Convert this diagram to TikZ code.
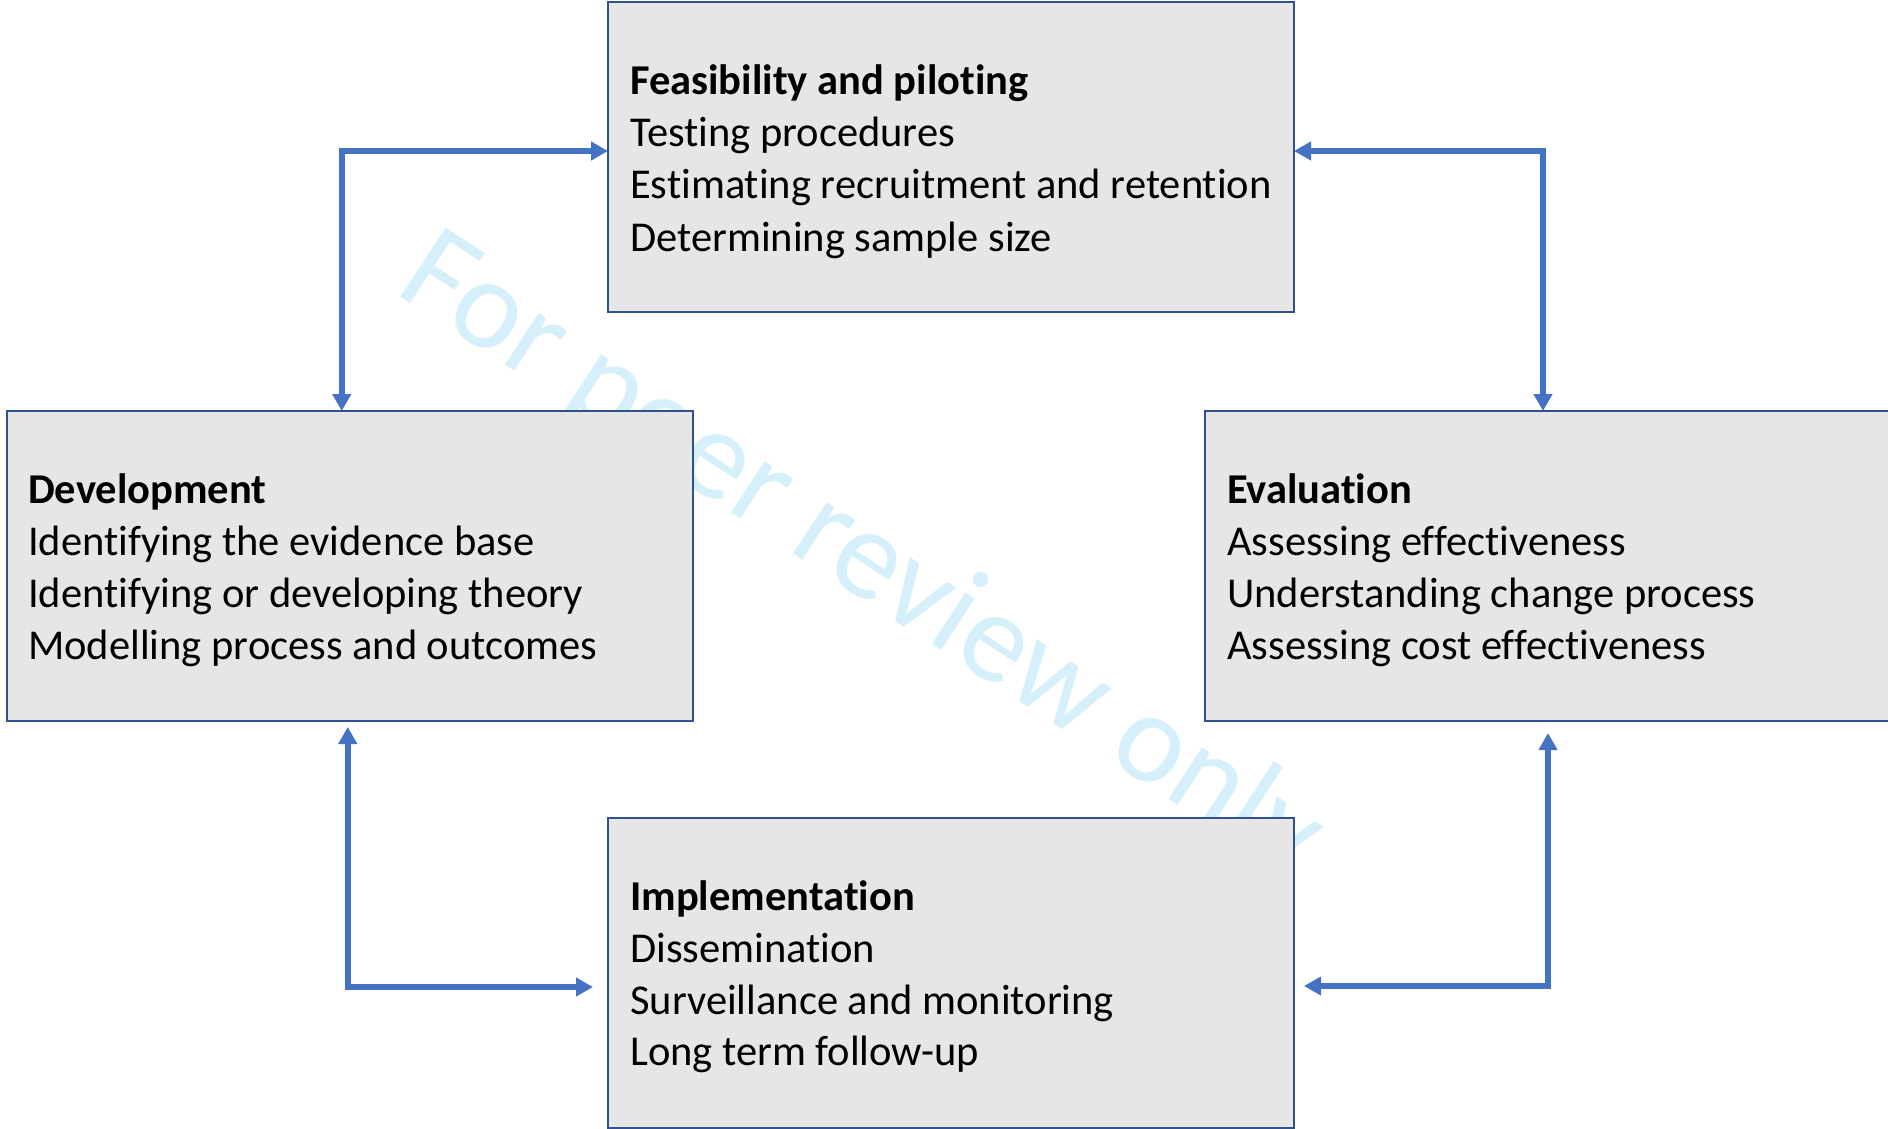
\documentclass[tikz,border=0pt]{standalone}
\usepackage{fontspec}
\setmainfont[Ligatures=NoCommon]{Carlito}
\usetikzlibrary{arrows.meta}
\definecolor{boxfill}{RGB}{230,230,230}
\definecolor{boxline}{RGB}{47,82,143}
\definecolor{arrowblue}{RGB}{68,114,196}
\definecolor{wmblue}{RGB}{214,240,251}
\begin{document}
\begin{tikzpicture}[x=1pt,y=-1pt,
  stagebox/.style={draw=boxline, fill=boxfill, line width=2.5pt, inner sep=0pt, outer sep=0pt,
    minimum width=686pt, minimum height=310pt},
  item/.style={anchor=base west, inner sep=0pt, font=\fontsize{42.5}{52}\selectfont},
  head/.style={item, font=\fontsize{42.5}{52}\selectfont\bfseries},
  wm/.style={anchor=base west, inner sep=0pt, rotate=-33.2, text=wmblue,
    font=\fontsize{129}{129}\selectfont},
  conn/.style={draw=arrowblue, line width=6pt,
    {Triangle[length=17pt,width=18pt]}-{Triangle[length=17pt,width=18pt]}}
]
\fill[white] (0,0) rectangle (1888,1129);
\useasboundingbox (0,0) rectangle (1888,1129);

% watermark behind everything
\node[wm] (mark) at (393,292) {For peer review only};

% the four stages
\node[stagebox] (feas) at (951,157) {};
\node[stagebox] (dev)  at (349.75,566) {};
\node[stagebox] (eval) at (1548,566) {};
\node[stagebox] (impl) at (951,973) {};

% stage texts
\node[head] (feasH) at (630,94.5)  {Feasibility and piloting};
\node[item] (feasA) at (630,146.7) {Testing procedures};
\node[item] (feasB) at (630,198.9) {Estimating recruitment and retention};
\node[item] (feasC) at (630,251.1) {Determining sample size};

\node[head] (devH) at (28,503.5)  {Development};
\node[item] (devA) at (28,555.5)  {Identifying the evidence base};
\node[item] (devB) at (28,607.5)  {Identifying or developing theory};
\node[item] (devC) at (28,659.5)  {Modelling process and outcomes};

\node[head] (evalH) at (1227,503.5) {Evaluation};
\node[item] (evalA) at (1227,555.5) {Assessing effectiveness};
\node[item] (evalB) at (1227,607.5) {Understanding change process};
\node[item] (evalC) at (1227,659.5) {Assessing cost effectiveness};

\node[head] (implH) at (630,910.5)  {Implementation};
\node[item] (implA) at (630,962.3)  {Dissemination};
\node[item] (implB) at (630,1014.1) {Surveillance and monitoring};
\node[item] (implC) at (630,1065.9) {Long term follow-up};

% two-way links between the stages
\draw[conn] ([xshift=-8pt]dev.north) |- ([yshift=6pt]feas.west);
\draw[conn] ([xshift=-5pt]eval.north) |- ([yshift=6pt]feas.east);
\draw[conn, shorten <=6pt, shorten >=15pt] ([xshift=-2pt]dev.south) |- ([yshift=-14pt]impl.west);
\draw[conn, shorten <=12pt, shorten >=10pt] (eval.south) |- ([yshift=-13pt]impl.east);
\end{tikzpicture}
\end{document}
